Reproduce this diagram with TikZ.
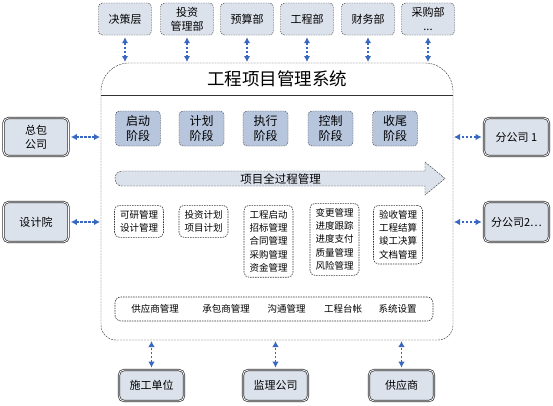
\documentclass[tikz,border=0pt]{standalone}
\usepackage{fontspec}
\setmainfont{Noto Sans CJK SC}
\usetikzlibrary{arrows.meta}

\definecolor{boxfill}{HTML}{DCE2EC}
\definecolor{phasefill}{HTML}{B7C6DD}
\definecolor{linkblue}{HTML}{3A68C0}
\definecolor{edgegray}{HTML}{333333}

\tikzset{
  deptbox/.style={draw=edgegray, dash pattern=on 1.5pt off 1pt, fill=boxfill,
    rounded corners=4pt, minimum width=53pt, minimum height=32pt, inner sep=1pt,
    align=center, font=\fontsize{11}{14}\selectfont},
  unitbox/.style={draw=edgegray, double=white, double distance=0.8pt, line width=0.7pt,
    fill=boxfill, rounded corners=5pt, minimum width=65pt, minimum height=38pt,
    inner sep=1pt, align=center, font=\fontsize{11}{14}\selectfont},
  phasebox/.style={draw=edgegray, dash pattern=on 1.5pt off 1pt, fill=phasefill,
    rounded corners=4pt, minimum width=45pt, minimum height=35pt, inner sep=1pt,
    align=center, font=\fontsize{12}{15.5}\selectfont},
  modbox/.style={draw=edgegray, line width=0.6pt, dash pattern=on 1.5pt off 1pt, fill=white,
    rounded corners=5pt, minimum width=49pt, inner xsep=3pt, inner ysep=5pt,
    anchor=north, align=center, font=\fontsize{9.5}{13.3}\selectfont},
  link/.style={linkblue, line width=1.3pt, dash pattern=on 2.5pt off 1.5pt,
    {Latex[length=6pt,width=6.5pt]}-{Latex[length=6pt,width=6.5pt]},
    shorten <=2pt, shorten >=1pt},
}

\begin{document}
\begin{tikzpicture}[x=1pt, y=-1pt]
  \useasboundingbox (0,0) rectangle (553,405);

  % 1. 系统主框（上圆角大，下圆角小）
  \node[minimum width=352pt, minimum height=277pt, inner sep=0pt, outer sep=0pt]
    (sys) at (277,201.5) {};
  \draw[edgegray, dash pattern=on 2pt off 1pt, fill=white]
    (sys.west) [rounded corners=28pt] -- (sys.north west) -- (sys.north east) -- (sys.east)
    [rounded corners=15pt] -- (sys.south east) -- (sys.south west) -- cycle;
  \draw[edgegray, line width=0.8pt] (101,95) -- (453,95);
  \node[font=\fontsize{17.5}{18}\selectfont] (title) at (277,79) {工程项目管理系统};

  % 2. 顶部部门（决策层 … 采购部）
  \foreach \x/\id/\txt in {125/jc/决策层, 187/tz/{投资\\管理部}, 247/ys/预算部,
                           307/gc/工程部, 368/cw/财务部, 428/cg/{采购部\\...}} {
    \node[deptbox] (\id) at (\x,19) {\txt};
    \draw[link] (\id.south) -- (\id.south |- sys.north);
  }

  % 3. 左右两侧单位
  \node[unitbox] (zb) at (36,137) {总包\\公司};
  \node[unitbox, minimum height=40pt] (sj) at (36,222) {设计院};
  \node[unitbox] (fg1) at (516.5,137) {分公司 1};
  \node[unitbox, minimum height=40pt] (fg2) at (516.5,222) {分公司2…};
  \draw[link] (zb.east) -- (zb.east -| sys.west);
  \draw[link] (sj.east) -- (sj.east -| sys.west);
  \draw[link] (fg1.west) -- (fg1.west -| sys.east);
  \draw[link] (fg2.west) -- (fg2.west -| sys.east);

  % 4. 底部单位
  \foreach \x/\id/\txt in {151.5/sg/施工单位, 275.5/jl/监理公司, 401.5/gy/供应商} {
    \node[unitbox, minimum width=65pt, minimum height=31pt] (\id) at (\x,385.5) {\txt};
    \draw[link] (\id.north) -- (\id.north |- sys.south);
  }

  % 5. 五个阶段
  \foreach \x/\id/\txt in {138/qd/启动, 201.5/jh/计划, 265.5/zx/执行,
                           330.5/kz/控制, 395/sw/收尾} {
    \node[phasebox] (\id) at (\x,128.5) {\txt\\阶段};
  }

  % 6. 全过程管理箭头
  \draw[edgegray, dash pattern=on 2pt off 1pt, fill=boxfill]
    (425,171) -- (425,162) -- (445,178.5) -- (425,195) -- (425,186)
    [rounded corners=7pt] -- (115,186) -- (115,171) [sharp corners] -- cycle;
  \node[font=\fontsize{11.5}{12}\selectfont] (flow) at (280.5,179) {项目全过程管理};

  % 7. 各阶段功能模块
  \node[modbox] (m1) at (139,205) {可研管理\\设计管理};
  \node[modbox] (m2) at (203.5,205) {投资计划\\项目计划};
  \node[modbox] (m3) at (268.5,205) {工程启动\\招标管理\\合同管理\\采购管理\\资金管理};
  \node[modbox] (m4) at (334.5,203) {变更管理\\进度跟踪\\进度支付\\质量管理\\风险管理};
  \node[modbox] (m5) at (398,205) {验收管理\\工程结算\\竣工决算\\文档管理};

  % 8. 公共功能栏
  \node[draw=edgegray, line width=0.6pt, dash pattern=on 1.5pt off 1pt, rounded corners=6pt,
        minimum width=318pt, minimum height=24pt] (bar) at (274,309) {};
  \foreach \x/\id/\txt in {155/gys/供应商管理, 226/cbs/承包商管理, 286.5/gt/沟通管理,
                           343/tb/工程台帐, 397.5/xt/系统设置} {
    \node[font=\fontsize{9.5}{10}\selectfont] (\id) at (\x,309) {\txt};
  }

\end{tikzpicture}
\end{document}
